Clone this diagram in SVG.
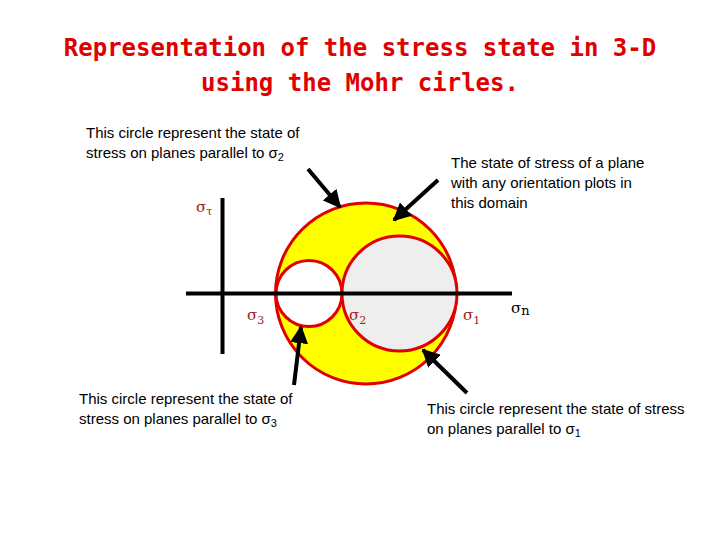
<svg xmlns="http://www.w3.org/2000/svg" width="720" height="540" viewBox="0 0 720 540">
<defs><marker id="ah" viewBox="0 0 10 10" refX="9" refY="5" markerWidth="4.5" markerHeight="4.5" orient="auto"><path d="M0,0L10,5L0,10z" fill="#000"/></marker></defs>
<style>
.t{font-family:"Comic Sans MS","DejaVu Sans Mono",monospace;font-size:24px;font-weight:bold;fill:#e00000;text-anchor:middle}
.l{font-family:"Liberation Sans",Arial,sans-serif;font-size:15px;fill:#000}
.s{font-family:"DejaVu Serif",serif;font-size:15px;fill:#a02020}
.c{stroke:#e00000;stroke-width:3}
.a{stroke:#000;stroke-width:4;fill:none;marker-end:url(#ah)}
</style>
<rect width="720" height="540" fill="#fff"/>
<text class="t" x="360" y="56">Representation of the stress state in 3-D</text>
<text class="t" x="360" y="91">using the Mohr cirles.</text>
<g id="big"><circle class="c" cx="366" cy="293.5" r="90.5" fill="#ffff00"/></g>
<g id="c3"><circle class="c" cx="309" cy="293.5" r="33" fill="#fff"/></g>
<g id="c1"><circle class="c" cx="399.5" cy="293.5" r="57.5" fill="#eeeeee"/></g>
<g id="axes"><line x1="186" y1="293.5" x2="512" y2="293.5" stroke="#000" stroke-width="4"/><line x1="222.5" y1="198" x2="222.5" y2="354" stroke="#000" stroke-width="4"/></g>
<g id="labels">
<text class="s" x="196" y="212">σ<tspan font-size="11" dy="3">τ</tspan></text>
<text class="s" x="247" y="320">σ<tspan font-size="11" dy="4">3</tspan></text>
<text class="s" x="349" y="320">σ<tspan font-size="11" dy="4">2</tspan></text>
<text class="s" x="463" y="320">σ<tspan font-size="11" dy="4">1</tspan></text>
<text class="s" x="511" y="313" style="fill:#000">σ<tspan font-size="13" dy="2">n</tspan></text>
<text class="l" x="86" y="138">This circle represent the state of</text>
<text class="l" x="86" y="158">stress on planes parallel to σ<tspan font-size="11" dy="3">2</tspan></text>
<text class="l" x="451" y="168">The state of stress of a plane</text>
<text class="l" x="451" y="188">with any orientation plots in</text>
<text class="l" x="451" y="208">this domain</text>
<text class="l" x="79" y="404">This circle represent the state of</text>
<text class="l" x="79" y="424">stress on planes parallel to σ<tspan font-size="11" dy="3">3</tspan></text>
<text class="l" x="427" y="414">This circle represent the state of stress</text>
<text class="l" x="427" y="434">on planes parallel to σ<tspan font-size="11" dy="3">1</tspan></text>
</g>
<g id="connectors">
<line class="a" x1="308" y1="169" x2="340" y2="207"/>
<line class="a" x1="438" y1="180" x2="394" y2="220"/>
<line class="a" x1="294" y1="385" x2="301" y2="327"/>
<line class="a" x1="467" y1="393" x2="423" y2="350"/>
</g>
</svg>
